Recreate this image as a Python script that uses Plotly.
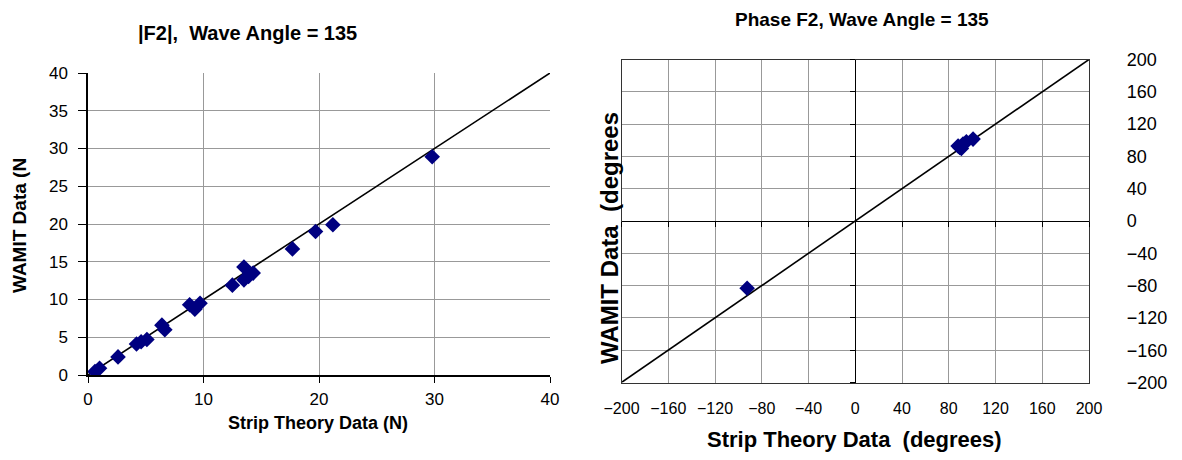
import plotly.graph_objects as go

# Left chart: |F2| (N)
mag_strip = [0.6, 1.0, 2.6, 4.2, 4.6, 5.1, 6.4, 6.65, 8.8, 9.25, 9.7, 12.5, 13.5, 13.5, 13.9, 14.3, 17.7, 19.7, 21.2, 29.8]
mag_wamit = [0.45, 0.9, 2.4, 4.1, 4.4, 4.7, 6.6, 6.0, 9.3, 8.7, 9.5, 11.9, 14.3, 12.6, 13.05, 13.5, 16.7, 19.0, 19.9, 28.9]
mag_line = [0, 40]

# Right chart: phase F2 (degrees)
ph_strip = [-92.5, 88.0, 89.4, 90.8, 92.2, 95.1, 100.8]
ph_wamit = [-83.3, 92.8, 91.1, 89.9, 95.3, 98.1, 101.4]
ph_line = [-200, 200]

mag_ticks = [0, 5, 10, 15, 20, 25, 30, 35, 40]
mag_xticks = [0, 10, 20, 30, 40]
ph_ticks = [-200, -160, -120, -80, -40, 0, 40, 80, 120, 160, 200]

FONT = "Liberation Sans, Arial, sans-serif"
NAVY = "#000080"
GRID = "#999999"

fig = go.Figure()
fig.add_trace(go.Scatter(x=mag_line, y=mag_line, mode="lines",
                         line=dict(color="black", width=1.6), xaxis="x", yaxis="y",
                         hoverinfo="skip"))
fig.add_trace(go.Scatter(x=mag_strip, y=mag_wamit, mode="markers",
                         marker=dict(symbol="diamond", size=12, color=NAVY),
                         xaxis="x", yaxis="y"))
fig.add_trace(go.Scatter(x=ph_line, y=ph_line, mode="lines",
                         line=dict(color="black", width=1.6), xaxis="x2", yaxis="y2",
                         hoverinfo="skip"))
fig.add_trace(go.Scatter(x=ph_strip, y=ph_wamit, mode="markers",
                         marker=dict(symbol="diamond", size=12, color=NAVY),
                         xaxis="x2", yaxis="y2"))

W, H = 1182, 460
Lx = [88/W, 550/W]
Ly = [1-375/H, 1-73/H]
Rx = [621.5/W, 1089/W]
Ry = [1-382.5/H, 1-59.5/H]

tickfont = dict(family=FONT, size=17, color="black")
rxtickfont = dict(family=FONT, size=16, color="black")
rytickfont = dict(family=FONT, size=18, color="black")

common = dict(automargin=False, fixedrange=True)

fig.update_layout(
    width=W, height=H,
    margin=dict(l=0, r=0, t=0, b=0, autoexpand=False),
    paper_bgcolor="white", plot_bgcolor="white",
    showlegend=False,
    font=dict(family=FONT, color="black"),
    xaxis=dict(domain=Lx, range=[0, 40], tickvals=mag_xticks, showgrid=True,
               gridcolor=GRID, gridwidth=1, zeroline=False,
               showline=True, linecolor="black", linewidth=1.5,
               ticks="outside", ticklen=6, tickcolor="black", tickfont=tickfont,
               ticklabelstandoff=2, anchor="y", **common),
    yaxis=dict(domain=Ly, range=[0, 40], tickvals=mag_ticks, showgrid=True,
               gridcolor=GRID, gridwidth=1, zeroline=False,
               showline=True, linecolor="black", linewidth=1.5,
               ticks="outside", ticklen=8, tickcolor="black", tickfont=tickfont,
               ticklabelstandoff=7, anchor="x", **common),
    # right chart: tick labels on bottom / right edge, no ticks
    xaxis2=dict(domain=Rx, range=[-200, 200], tickvals=ph_ticks, showgrid=True,
                gridcolor=GRID, gridwidth=1, zeroline=True, zerolinecolor="black",
                zerolinewidth=1.2, showline=True, mirror=True, linecolor="#333333",
                linewidth=1.2, ticks="", tickfont=rxtickfont, anchor="y2",
                ticklabelstandoff=11, **common),
    yaxis2=dict(domain=Ry, range=[-200, 200], tickvals=ph_ticks, showgrid=True,
                gridcolor=GRID, gridwidth=1, zeroline=True, zerolinecolor="black",
                zerolinewidth=1.2, showline=True, mirror=True, linecolor="#333333",
                linewidth=1.2, ticks="", tickfont=rytickfont, side="right",
                anchor="x2", ticklabelstandoff=33, **common),
    # tick marks on the zero lines
    xaxis3=dict(domain=Rx, range=[-200, 200], tickvals=ph_ticks, overlaying="x2",
                anchor="free", position=(Ry[0]+Ry[1])/2, showgrid=False,
                zeroline=False, showline=False, ticks="outside", ticklen=5,
                tickcolor="black", showticklabels=False, **common),
    yaxis3=dict(domain=Ry, range=[-200, 200], tickvals=ph_ticks, overlaying="y2",
                anchor="free", position=(Rx[0]+Rx[1])/2, showgrid=False,
                zeroline=False, showline=False, ticks="outside", ticklen=5,
                tickcolor="black", showticklabels=False, **common),
)

# dummy traces to activate overlay axes
fig.add_trace(go.Scatter(x=[None], y=[None], xaxis="x3", yaxis="y2", hoverinfo="skip"))
fig.add_trace(go.Scatter(x=[None], y=[None], xaxis="x2", yaxis="y3", hoverinfo="skip"))

def bold(size):
    return dict(family=FONT, size=size, color="black")

ann = [
    dict(text="<b>|F2|,  Wave Angle = 135</b>", x=247/W, y=1-33/H, font=bold(20)),
    dict(text="<b>Phase F2, Wave Angle = 135</b>", x=862/W, y=1-20/H, font=bold(19)),
    dict(text="<b>Strip Theory Data (N)</b>", x=318/W, y=1-423/H, font=bold(18)),
    dict(text="<b>Strip Theory Data  (degrees)</b>", x=854/W, y=1-439/H, font=bold(22)),
    dict(text="<b>WAMIT Data (N</b>", x=19/W, y=1-226/H, font=bold(19), textangle=-90),
    dict(text="<b>WAMIT Data  (degrees</b>", x=609/W, y=1-238/H, font=bold(24), textangle=-90),
]
for a in ann:
    fig.add_annotation(xref="paper", yref="paper", showarrow=False,
                       xanchor="center", yanchor="middle", **a)

fig.write_html("out.html", config={"displayModeBar": False},
               post_script="document.body.style.margin='0';document.body.style.padding='0';")
